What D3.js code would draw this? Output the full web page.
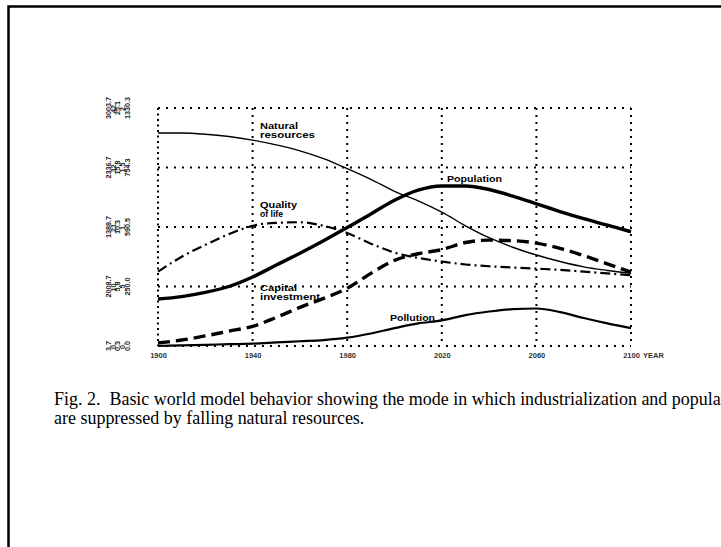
<!DOCTYPE html>
<html><head><meta charset="utf-8">
<script src="https://cdn.jsdelivr.net/npm/d3@7"></script>
<style>html,body{margin:0;padding:0;background:#fff;overflow:hidden}</style>
</head><body>
<svg id="c" width="721" height="547"></svg>
<script>
// ---- data (grid units: bottom gridline = 0, top gridline = 4) ----
const years = [1900,1910,1920,1930,1940,1950,1960,1970,1980,1990,2000,2010,2020,2030,2040,2050,2060,2070,2080,2090,2100];
const naturalResources = [3.58,3.58,3.56,3.52,3.46,3.38,3.28,3.15,2.98,2.80,2.60,2.44,2.25,2.02,1.82,1.66,1.53,1.42,1.33,1.27,1.22];
const population       = [0.79,0.83,0.90,1.00,1.16,1.36,1.56,1.77,1.99,2.22,2.45,2.62,2.69,2.69,2.63,2.52,2.39,2.26,2.14,2.03,1.92];
const qualityOfLife    = [1.25,1.50,1.70,1.88,2.02,2.07,2.08,2.02,1.90,1.72,1.57,1.48,1.42,1.37,1.34,1.32,1.30,1.28,1.25,1.22,1.19];
const capitalInvest    = [0.05,0.10,0.17,0.25,0.33,0.48,0.65,0.80,0.97,1.22,1.44,1.55,1.62,1.74,1.78,1.77,1.73,1.64,1.52,1.38,1.24];
const pollution        = [0.00,0.01,0.02,0.03,0.04,0.06,0.08,0.10,0.14,0.21,0.30,0.38,0.43,0.52,0.58,0.62,0.63,0.57,0.47,0.38,0.30];
const yearTicks = [1900,1940,1980,2020,2060,2100];
const levels = [0,1,2,3,4];
const levelLabels = [
  ["3.7","0.","0.3","0.","0.0"],
  ["2008.7","10.","5.8","5","250.0"],
  ["1388.7","21.","10.3","1.","590.5"],
  ["2336.7","32.","15.8","1.5","754.3"],
  ["3003.7","42.","25.1","2.","1330.3"]
];
const seriesNames = [["Natural","resources"],["Population"],["Quality","of life"],["Capital","investment"],["Pollution"]];
const captionLines = ["Fig. 2.  Basic world model behavior showing the mode in which industrialization and population",
                      "are suppressed by falling natural resources."];

const svg = d3.select("#c");
svg.append("rect").attr("width",721).attr("height",547).attr("fill","#fff");
svg.append("rect").attr("x",8.5).attr("y",6.5).attr("width",900).attr("height",700)
  .attr("fill","none").attr("stroke","#000").attr("stroke-width",2.5);

const x = d3.scaleLinear().domain([1900,2100]).range([158,631]);
const y = d3.scaleLinear().domain([0,4]).range([346,108]);

// grid (dotted)
const g = svg.append("g");
g.selectAll(".h").data(levels).join("line")
  .attr("x1",x(1900)).attr("x2",x(2100)).attr("y1",d=>y(d)).attr("y2",d=>y(d))
  .attr("stroke","#000").attr("stroke-width",2).attr("stroke-dasharray","2,6");
g.selectAll(".v").data(yearTicks).join("line")
  .attr("x1",d=>x(d)).attr("x2",d=>x(d)).attr("y1",y(4)).attr("y2",y(0))
  .attr("stroke","#000").attr("stroke-width",2)
  .attr("stroke-dasharray",d=>d===1900?"2,3.5":"2,5");

// x axis labels
const xa = svg.append("g").attr("transform",`translate(0,${y(0)})`)
  .call(d3.axisBottom(x).tickValues(yearTicks).tickFormat(d3.format("d")).tickSize(0).tickPadding(7));
xa.select(".domain").remove();
xa.selectAll("text").attr("font-family","Liberation Sans, Arial, sans-serif")
  .attr("font-size",7.5).attr("font-weight","bold").attr("fill","#333");
svg.append("text").attr("x",x(2100)+12).attr("y",y(0)+7).attr("dy","0.71em")
  .attr("font-family","Liberation Sans, Arial, sans-serif").attr("font-size",7.5)
  .attr("font-weight","bold").attr("fill","#333").text("YEAR");

// y labels: five rotated columns per level
const colX = [108,113,117.8,122.4,127];
levels.forEach((lv,i)=>{
  levelLabels[i].forEach((t,j)=>{
    svg.append("text")
      .attr("transform",`translate(${colX[j]},${y(lv)}) rotate(-90)`)
      .attr("text-anchor","middle").attr("dominant-baseline","central")
      .attr("font-family","Liberation Sans, Arial, sans-serif").attr("font-size",7.2)
      .attr("font-weight","bold").attr("fill","#222").text(t);
  });
});

// series
const line = d3.line().x((d,i)=>x(years[i])).y(d=>y(d)).curve(d3.curveMonotoneX);
const styles = [
  {data:naturalResources, w:1.4, dash:null},
  {data:population, w:3.4, dash:null},
  {data:qualityOfLife, w:2.2, dash:"10,4,2,4"},
  {data:capitalInvest, w:3.4, dash:"12,6"},
  {data:pollution, w:2.2, dash:null}
];
styles.forEach(s=>{
  svg.append("path").attr("d",line(s.data)).attr("fill","none").attr("stroke","#000")
    .attr("stroke-width",s.w).attr("stroke-dasharray",s.dash).attr("stroke-linecap","butt");
});

// series labels
const labelPos = [
  {x:260,y:[129,138],w:[38,55]},
  {x:447,y:[182],w:[55]},
  {x:260,y:[208,217],w:[37,23]},
  {x:260,y:[290.5,299.5],w:[37,60]},
  {x:390,y:[321],w:[45]}
];
seriesNames.forEach((lines,i)=>{
  lines.forEach((t,k)=>{
    svg.append("text").attr("x",labelPos[i].x).attr("y",labelPos[i].y[k])
      .attr("font-family","Liberation Sans, Arial, sans-serif").attr("font-size",8.5)
      .attr("font-weight","bold").attr("fill","#000")
      .attr("textLength",labelPos[i].w[k]).attr("lengthAdjust","spacingAndGlyphs").text(t);
  });
});

// caption
const cap = svg.append("g").attr("font-family","Liberation Serif, Times New Roman, serif").attr("fill","#000");
const c1 = cap.append("text").attr("x",54).attr("y",405).attr("font-size",17).attr("xml:space","preserve").text(captionLines[0]);
// fit so that "...and popula" ends at the right edge
const idx = captionLines[0].indexOf("popula")+6;
const w = c1.node().getSubStringLength(0,idx);
const fs = 17*(721-54)/w;
c1.attr("font-size",fs);
cap.append("text").attr("x",54).attr("y",424).attr("font-size",fs).text(captionLines[1]);
</script>
</body></html>
